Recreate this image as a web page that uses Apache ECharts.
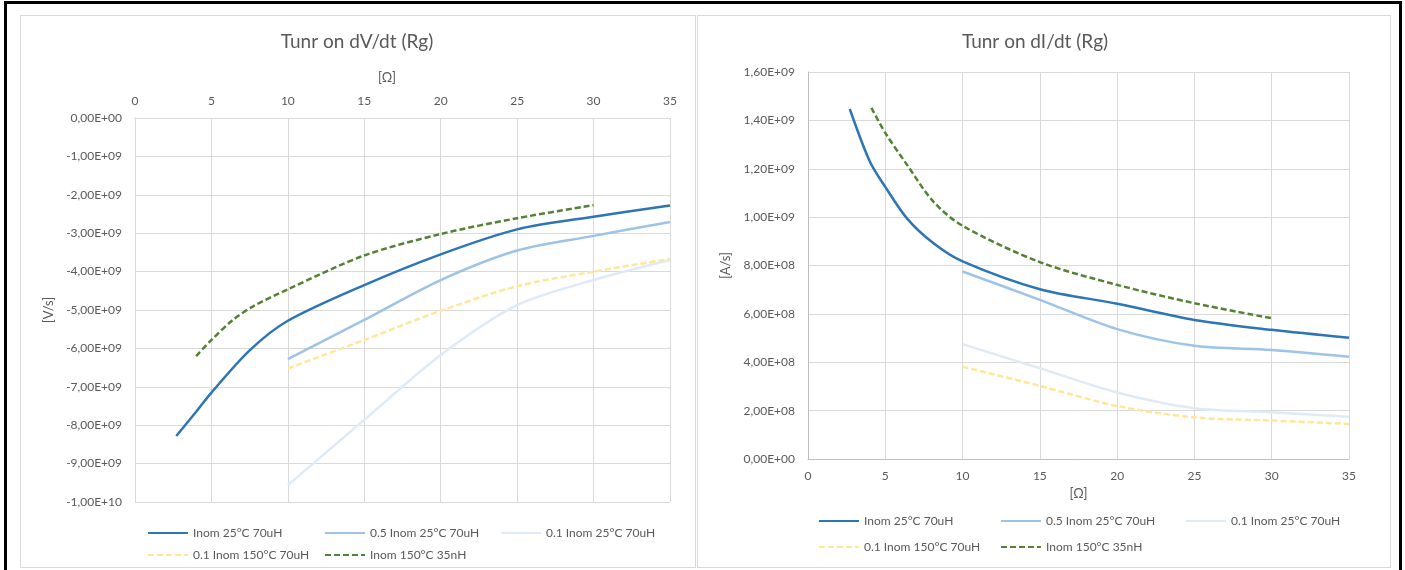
<!DOCTYPE html>
<html>
<head>
<meta charset="utf-8">
<title>Tunr on dV/dt / dI/dt (Rg)</title>
<script src="https://cdn.jsdelivr.net/npm/echarts@6/dist/echarts.min.js"></script>
<style>
  body { margin: 0; background: #fff; width: 1405px; height: 570px; overflow: hidden; position: relative; }
  .frame { position: absolute; left: 4px; top: 1px; width: 1392px; height: 620px; border: 3px solid #000; }
  .panel { position: absolute; top: 15px; height: 551px; border: 1px solid #D9D9D9; background: #fff; }
  #chart1 { left: 20px; width: 674px; }
  #chart2 { left: 697px; width: 692px; }
</style>
</head>
<body>
<div class="frame"></div>
<div class="panel" id="chart1"></div>
<div class="panel" id="chart2"></div>
<script>
// series names (legend order)
var names = ['Inom 25°C 70uH', '0.5 Inom 25°C 70uH', '0.1 Inom 25°C 70uH', '0.1 Inom 150°C 70uH', 'Inom 150°C 35nH'];

// tick labels
var xLabels = ['0', '5', '10', '15', '20', '25', '30', '35'];
var dvLabels = ['-1,00E+10', '-9,00E+09', '-8,00E+09', '-7,00E+09', '-6,00E+09', '-5,00E+09',
                '-4,00E+09', '-3,00E+09', '-2,00E+09', '-1,00E+09', '0,00E+00'];
var diLabels = ['0,00E+00', '2,00E+08', '4,00E+08', '6,00E+08', '8,00E+08',
                '1,00E+09', '1,20E+09', '1,40E+09', '1,60E+09'];

// Rg [Ω]
var rgFull = [2.7, 4, 5, 7.5, 10, 15, 20, 25, 30, 35];
var rgFrom10 = [10, 15, 20, 25, 30, 35];
var rgGreenDv = [4, 5, 6.4, 7.7, 10, 15, 20, 25, 30];
var rgBlueDi = [2.7, 4, 5, 6.4, 8.1, 10, 15, 20, 25, 30, 35];
var rgGreenDi = [4.1, 5, 6.4, 8.1, 10, 15, 20, 25, 30];

// dV/dt [V/s]
var dvInom25 = [-8.28e9, -7.65e9, -7.15e9, -6.05e9, -5.28e9, -4.35e9, -3.55e9, -2.90e9, -2.57e9, -2.28e9];
var dvHalf25 = [-6.28e9, -5.26e9, -4.22e9, -3.45e9, -3.07e9, -2.71e9];
var dvTenth25 = [-9.56e9, -7.86e9, -6.17e9, -4.87e9, -4.22e9, -3.70e9];
var dvTenth150 = [-6.52e9, -5.78e9, -5.02e9, -4.38e9, -4.00e9, -3.67e9];
var dvInom150 = [-6.20e9, -5.78e9, -5.26e9, -4.91e9, -4.46e9, -3.58e9, -3.02e9, -2.61e9, -2.27e9];

// dI/dt [A/s]
var diInom25 = [1.447e9, 1.23e9, 1.125e9, 0.995e9, 0.893e9, 0.817e9, 0.702e9, 0.642e9, 0.575e9, 0.534e9, 0.501e9];
var diHalf25 = [0.775e9, 0.658e9, 0.537e9, 0.468e9, 0.451e9, 0.423e9];
var diTenth25 = [0.475e9, 0.375e9, 0.275e9, 0.210e9, 0.193e9, 0.175e9];
var diTenth150 = [0.382e9, 0.302e9, 0.219e9, 0.172e9, 0.159e9, 0.145e9];
var diInom150 = [1.452e9, 1.348e9, 1.217e9, 1.065e9, 0.964e9, 0.814e9, 0.720e9, 0.644e9, 0.582e9];

var colors = ['#2E75B6', '#9DC3E6', '#DEEBF7', '#FFE699', '#548235'];
var dashed = [false, false, false, true, true];
var txt = '#595959';
var font = 'Lato, "Open Sans", sans-serif';

function pairs(xs, ys) {
    return xs.map(function (x, i) { return [x, ys[i]]; });
}

function makeSeries(list) {
    return list.map(function (d, i) {
        return {
            name: names[i],
            type: 'line',
            data: d,
            smooth: 0.3,
            symbol: 'none',
            lineStyle: { width: 2.5, color: colors[i], type: dashed[i] ? [6, 3] : 'solid' },
            itemStyle: { color: colors[i] }
        };
    });
}

// 图例：每项单独放置，只画线不画点
function makeLegends(cols, rows) {
    return names.map(function (n, i) {
        return {
            data: [n],
            left: cols[i % 3],
            top: rows[Math.floor(i / 3)],
            itemWidth: 40,
            itemHeight: 14,
            itemGap: 0,
            itemStyle: { opacity: 0 },
            textStyle: { color: txt, fontSize: 12, fontFamily: font },
            selectedMode: false
        };
    });
}

// 左图 dV/dt
var chart1 = echarts.init(document.getElementById('chart1'));
chart1.setOption({
    animation: false,
    textStyle: { fontFamily: font },
    title: {
        text: 'Tunr on dV/dt (Rg)',
        left: 336, top: 16, textAlign: 'center', padding: 0,
        textStyle: { color: txt, fontSize: 19, fontWeight: 'normal', fontFamily: font }
    },
    legend: makeLegends([121, 298, 474], [506, 528]),
    grid: { left: 114, top: 102, width: 535, height: 384 },
    xAxis: {
        type: 'value', position: 'top', min: 0, max: 35, interval: 5,
        name: '[Ω]', nameLocation: 'middle', nameGap: 34,
        nameTextStyle: { color: txt, fontSize: 13, padding: [0, 31, 0, 0] },
        axisLine: { show: true, onZero: false, lineStyle: { color: '#D9D9D9' } },
        axisTick: { show: false },
        axisLabel: { color: txt, fontSize: 12, margin: 11, formatter: function (v) { return xLabels[Math.round(v / 5)]; } },
        splitLine: { show: true, lineStyle: { color: '#D9D9D9' } }
    },
    yAxis: {
        type: 'value', min: -1e10, max: 0, interval: 1e9,
        name: '[V/s]', nameLocation: 'middle', nameGap: 76,
        nameTextStyle: { color: txt, fontSize: 13 },
        axisLine: { show: true, lineStyle: { color: '#D9D9D9' } },
        axisTick: { show: false },
        axisLabel: { color: txt, fontSize: 12, margin: 13, formatter: function (v) { return dvLabels[Math.round((v + 1e10) / 1e9)]; } },
        splitLine: { show: true, lineStyle: { color: '#D9D9D9' } }
    },
    series: makeSeries([
        pairs(rgFull, dvInom25),
        pairs(rgFrom10, dvHalf25),
        pairs(rgFrom10, dvTenth25),
        pairs(rgFrom10, dvTenth150),
        pairs(rgGreenDv, dvInom150)
    ])
});

// 右图 dI/dt
var chart2 = echarts.init(document.getElementById('chart2'));
chart2.setOption({
    animation: false,
    textStyle: { fontFamily: font },
    title: {
        text: 'Tunr on dI/dt (Rg)',
        left: 337, top: 16, textAlign: 'center', padding: 0,
        textStyle: { color: txt, fontSize: 19, fontWeight: 'normal', fontFamily: font }
    },
    legend: makeLegends([115, 297, 482], [494, 520]),
    grid: { left: 110, top: 56, width: 541, height: 387 },
    xAxis: {
        type: 'value', min: 0, max: 35, interval: 5,
        name: '[Ω]', nameLocation: 'middle', nameGap: 26,
        nameTextStyle: { color: txt, fontSize: 13 },
        axisLine: { show: true, lineStyle: { color: '#BFBFBF' } },
        axisTick: { show: false },
        axisLabel: { color: txt, fontSize: 12, margin: 11, formatter: function (v) { return xLabels[Math.round(v / 5)]; } },
        splitLine: { show: true, lineStyle: { color: '#D9D9D9' } }
    },
    yAxis: {
        type: 'value', min: 0, max: 1.6e9, interval: 2e8,
        name: '[A/s]', nameLocation: 'middle', nameGap: 73,
        nameTextStyle: { color: txt, fontSize: 13 },
        axisLine: { show: true, lineStyle: { color: '#BFBFBF' } },
        axisTick: { show: false },
        axisLabel: { color: txt, fontSize: 12, margin: 13, formatter: function (v) { return diLabels[Math.round(v / 2e8)]; } },
        splitLine: { show: true, lineStyle: { color: '#D9D9D9' } }
    },
    series: makeSeries([
        pairs(rgBlueDi, diInom25),
        pairs(rgFrom10, diHalf25),
        pairs(rgFrom10, diTenth25),
        pairs(rgFrom10, diTenth150),
        pairs(rgGreenDi, diInom150)
    ])
});
</script>
</body>
</html>
